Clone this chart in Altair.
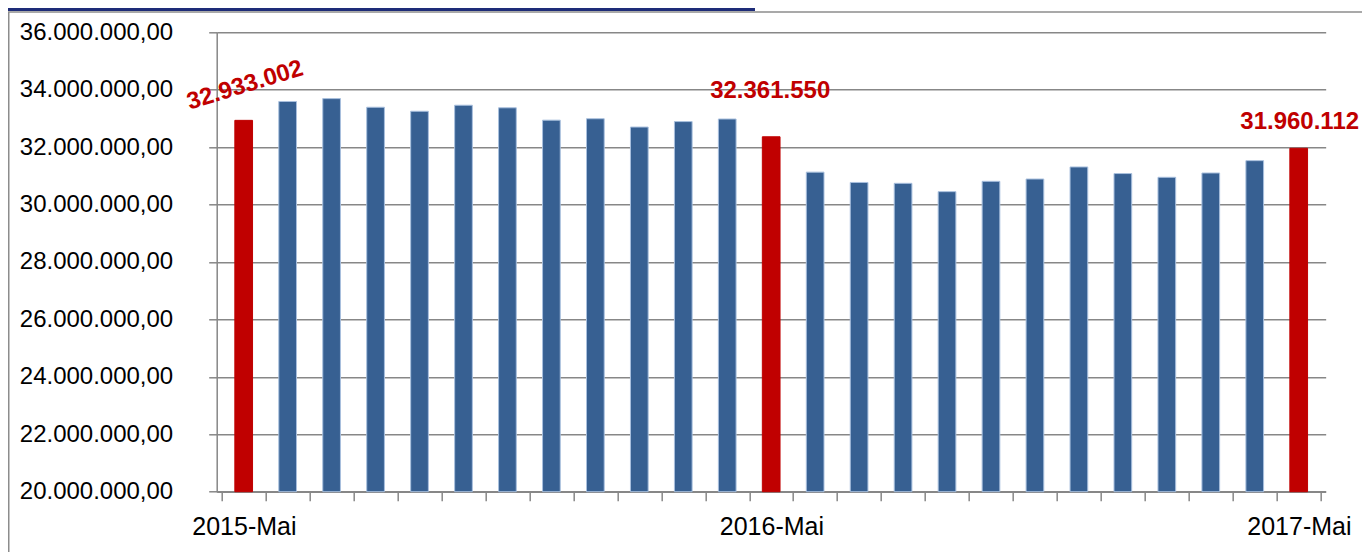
import altair as alt
import pandas as pd

months = ["2015-Mai", "2015-Jun", "2015-Jul", "2015-Aug", "2015-Sep", "2015-Okt",
          "2015-Nov", "2015-Dez", "2016-Jan", "2016-Feb", "2016-Mrz", "2016-Apr",
          "2016-Mai", "2016-Jun", "2016-Jul", "2016-Aug", "2016-Sep", "2016-Okt",
          "2016-Nov", "2016-Dez", "2017-Jan", "2017-Feb", "2017-Mrz", "2017-Apr",
          "2017-Mai"]
values = [32933002, 33590000, 33690000, 33390000, 33250000, 33460000,
          33370000, 32940000, 32990000, 32700000, 32890000, 32980000,
          32361550, 31130000, 30770000, 30740000, 30450000, 30810000,
          30890000, 31310000, 31080000, 30950000, 31100000, 31530000,
          31960112]
shown_x_labels = ["2015-Mai", "2016-Mai", "2017-Mai"]
y_ticks = [20000000, 22000000, 24000000, 26000000, 28000000,
           30000000, 32000000, 34000000, 36000000]

df = pd.DataFrame({
    "idx": list(range(len(months))),
    "month": months,
    "value": values,
    "kind": ["mai" if m in shown_x_labels else "other" for m in months],
    "label": [f"{v:,}".replace(",", ".") if m in shown_x_labels else "" for m, v in zip(months, values)],
})

n = len(months)
W, H = 1109, 459.4
PAD_L, PAD_T = 208.7, 24.3
step = W / n

label_expr = " : ".join(
    f"datum.value == {i} ? '{m}'" for i, m in enumerate(months) if m in shown_x_labels
) + " : ''"

FONT = "Liberation Sans"
GRAY = "#878787"

x_enc = alt.X(
    "pos:Q",
    scale=alt.Scale(domain=[0, n], nice=False, zero=False),
    axis=alt.Axis(
        values=list(range(n + 1)), labelExpr=label_expr, labelOffset=step / 2,
        labelFlush=False, labelOverlap=False, tickSize=9, labelPadding=14,
        title=None, grid=False, domainColor=GRAY, tickColor=GRAY,
        domainWidth=1.5, tickWidth=1.5, labelFont=FONT, labelFontSize=25,
        labelColor="#000000",
    ),
)
y_enc = alt.Y(
    "value:Q",
    scale=alt.Scale(domain=[y_ticks[0], y_ticks[-1]], nice=False, zero=False),
    axis=alt.Axis(
        values=y_ticks,
        labelExpr="replace(format(datum.value, ','), regexp(',', 'g'), '.') + ',00'",
        tickSize=8, labelPadding=36, title=None, grid=True, gridColor=GRAY,
        gridWidth=1.5, domainColor=GRAY, tickColor=GRAY, domainWidth=1.5,
        tickWidth=1.5, labelFont=FONT, labelFontSize=24, labelColor="#000000",
    ),
)

base = alt.Chart(df).transform_calculate(pos="datum.idx + 0.5")

bars = base.mark_bar(size=17.7, strokeWidth=1).encode(
    x=x_enc,
    y=y_enc,
    y2=alt.datum(y_ticks[0]),
    color=alt.Color("kind:N", scale=alt.Scale(domain=["other", "mai"], range=["#376092", "#C00000"]), legend=None),
    stroke=alt.condition(alt.datum.kind == "mai", alt.value("#C00000"), alt.value("#A9C0DE")),
)

def lab(i, **kw):
    return base.transform_filter(alt.datum.idx == i).mark_text(
        font=FONT, fontSize=24, fontWeight="bold", color="#C00000",
        align="center", baseline="middle", **kw
    ).encode(x="pos:Q", y="value:Q", text="label:N")

lab0 = lab(0, angle=343, dx=11.5, dy=-33)
lab1 = lab(12, dx=-1, dy=-46)
lab2 = lab(24, dx=1, dy=-26)

deco = alt.Chart(pd.DataFrame({"d": [0]}))
navy = deco.mark_rule(color="#1E2C78", strokeWidth=3).encode(
    x=alt.value(-PAD_L), x2=alt.value(-PAD_L + 747), y=alt.value(-PAD_T + 1.5))
border_top = deco.mark_rule(color="#8C8C8C", strokeWidth=1.5).encode(
    x=alt.value(-PAD_L), x2=alt.value(W + 200), y=alt.value(-PAD_T + 4))
border_left = deco.mark_rule(color="#8C8C8C", strokeWidth=1.5).encode(
    x=alt.value(-PAD_L + 0.75), y=alt.value(-PAD_T + 4), y2=alt.value(H + 200))

chart = alt.layer(bars, lab0, lab1, lab2, navy, border_top, border_left).properties(
    width=W, height=H,
    autosize=alt.AutoSizeParams(type="none"),
    padding={"left": PAD_L, "top": PAD_T, "right": 36, "bottom": 60},
).configure_view(stroke=None)

chart.save("out.html", embed_options={"renderer": "svg", "actions": False})
